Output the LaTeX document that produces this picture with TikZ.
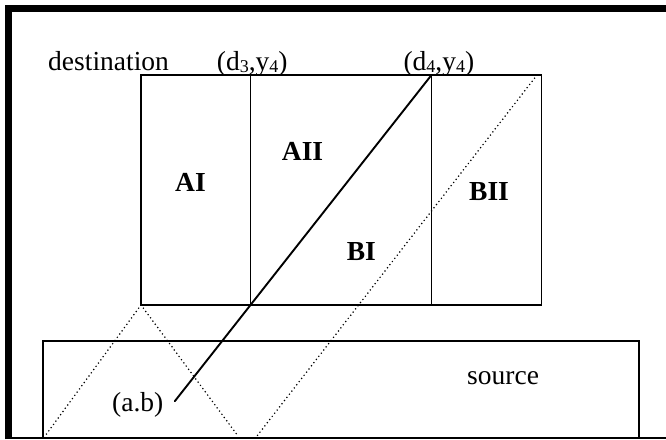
\documentclass[tikz,border=0pt]{standalone}
\usepackage{fontspec}
\setmainfont{Liberation Serif}
\usetikzlibrary{calc}
\newcommand{\lowsub}[1]{\raisebox{-2pt}{\fontsize{18}{18}\selectfont #1}}
\tikzset{
  edge/.style={line width=1.8pt},
  ray/.style={line width=1.9pt, line cap=round},
  dotray/.style={line width=1.7pt, line cap=round, dash pattern=on 0pt off 4pt},
  lbl/.style={inner sep=0pt, anchor=base west, font=\fontsize{27.5}{30}\selectfont},
  region/.style={lbl, font=\fontsize{27.5}{30}\selectfont\bfseries},
}
\begin{document}
\begin{tikzpicture}[x=1pt,y=-1pt]
  \useasboundingbox (0,0) rectangle (666,439);
  \clip (0,0) rectangle (666,439);

  % outer frame: heavy top and left rules, thin base rule
  \draw[line width=7pt] (8.5,439) -- (8.5,8.5) -- (680,8.5);
  \draw[line width=1.8pt] (5,438) -- (680,438);

  % destination block and its three columns
  \coordinate (dTL) at (141,75);
  \coordinate (dBR) at (541.5,305);
  \coordinate (d3top) at (250.5,75);
  \coordinate (d3bot) at (250.5,305);
  \coordinate (d4top) at (431.5,75);
  \coordinate (d4bot) at (431.5,305);
  \coordinate (dBL) at (141,305);
  \draw[edge] (dTL) rectangle (dBR);
  \draw[edge] (d3top) -- (d3bot);
  \draw[edge] (d4top) -- (d4bot);

  % source block
  \coordinate (sTL) at (42.7,340.7);
  \coordinate (sBR) at (639,438);
  \draw[edge] (sTL) rectangle (sBR);

  % solid ray from (d4,y4) back to (a.b)
  \coordinate (ab) at ($(d4top)!1.418!(d3bot)$);
  \draw[ray] (d4top) -- (ab);

  % dotted rays
  \coordinate (pTop) at (537,75);
  \coordinate (pBot) at (257,436);
  \coordinate (vL) at (45,436);
  \coordinate (vR) at (238,436);
  \draw[dotray] (pTop) -- (pBot);
  \draw[dotray] (dBL) -- (vL);
  \draw[dotray] (dBL) -- (vR);

  % labels
  \node[lbl] (tDest) at (48,70.7) {destination};
  \node[lbl] (tD3) at (216.7,70.7) {(d\lowsub{3},y\lowsub{4})};
  \node[lbl] (tD4) at (403.3,70.7) {(d\lowsub{4},y\lowsub{4})};
  \node[lbl] (tSrc) at (467,384) {source};
  \node[lbl] (tAB) at (112,411) {(a.b)};

  \node[region] (rAI) at (175,191.7) {AI};
  \node[region] (rAII) at (281.7,160.7) {AII};
  \node[region] (rBI) at (346.7,260.7) {BI};
  \node[region] (rBII) at (469,200.7) {BII};
\end{tikzpicture}
\end{document}
